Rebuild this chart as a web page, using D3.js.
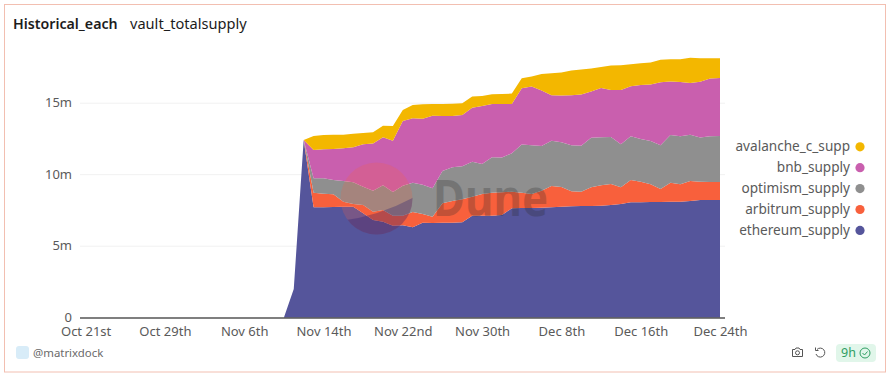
<!DOCTYPE html>
<html>
<head>
    <meta charset="utf-8">
    <script src="https://d3js.org/d3.v7.min.js"></script>
    <style>
        html, body { margin: 0; padding: 0; background: #fff; overflow: hidden; }
        text { font-family: "Noto Sans", sans-serif; }
    </style>
</head>
<body>
    <div id="chart"></div>
    <script>
        // daily values in millions, Oct 21st to Dec 24th
        const startDay = "2023-10-21";
        const ethereum = [0,0,0,0,0,0,0,0,0,0,0,0,0,0,0,0,0,0,0,0,0,2.0,12.43,
            7.72,7.72,7.74,7.76,7.76,7.30,6.83,6.71,6.43,6.46,6.32,6.64,6.62,6.64,6.64,6.67,7.13,7.13,7.13,7.18,7.65,
            7.67,7.67,7.69,7.72,7.76,7.79,7.81,7.81,7.83,7.88,7.95,8.07,8.07,8.09,8.09,8.11,8.11,8.16,8.23,8.23,8.23];
        const arbitrum = [0,0,0,0,0,0,0,0,0,0,0,0,0,0,0,0,0,0,0,0,0,0,0,
            1.02,0.95,0.89,0.35,0.19,0.58,0.58,0.82,0.70,0.67,1.07,0.61,0.44,1.36,1.52,1.61,1.33,1.52,1.61,1.59,1.16,
            1.07,0.98,1.19,1.49,1.38,1.05,1.00,1.31,1.43,1.47,1.17,1.56,1.44,1.24,0.91,1.33,1.22,1.40,1.28,1.26,1.26];
        const optimism = [0,0,0,0,0,0,0,0,0,0,0,0,0,0,0,0,0,0,0,0,0,0,0,
            1.01,1.08,1.00,1.45,1.52,1.28,1.47,1.73,1.66,2.10,2.05,2.05,1.99,2.26,2.36,2.31,2.45,2.10,2.48,2.43,2.69,
            3.38,3.41,3.13,3.17,3.13,3.22,3.22,3.47,3.36,3.29,3.01,3.06,2.99,3.03,3.06,3.34,3.36,3.24,3.10,3.20,3.22];
        const bnb = [0,0,0,0,0,0,0,0,0,0,0,0,0,0,0,0,0,0,0,0,0,0,0,
            1.98,2.03,2.17,2.29,2.45,2.97,3.31,3.36,3.59,4.52,4.50,4.62,5.08,3.85,3.59,3.59,3.78,4.06,3.73,3.74,3.45,
            3.92,4.10,3.87,3.17,3.26,3.50,3.57,3.22,3.45,3.29,3.80,3.50,3.78,3.94,4.41,3.73,3.80,3.62,3.89,4.03,4.06];
        const avalanche = [0,0,0,0,0,0,0,0,0,0,0,0,0,0,0,0,0,0,0,0,0,0,0,
            0.98,1.00,1.00,0.95,0.95,0.79,0.77,0.81,1.03,0.77,0.93,1.01,0.82,0.84,0.86,0.82,0.77,0.70,0.68,0.70,0.72,
            0.70,0.70,1.17,1.54,1.61,1.72,1.75,1.61,1.47,1.70,1.73,1.54,1.52,1.54,1.56,1.57,1.59,1.75,1.64,1.43,1.38];

        const seriesNames = ["ethereum_supply", "arbitrum_supply", "optimism_supply", "bnb_supply", "avalanche_c_supp"];
        const seriesColors = ["#55559b", "#f8603c", "#8f8f8f", "#c95fae", "#f3b700"];
        const yTicks = [0, 5, 10, 15];
        const yTickLabels = ["0", "5m", "10m", "15m"];
        const xTicks = ["2023-10-21", "2023-10-29", "2023-11-06", "2023-11-14", "2023-11-22", "2023-11-30", "2023-12-08", "2023-12-16", "2023-12-24"];
        const xTickLabels = ["Oct 21st", "Oct 29th", "Nov 6th", "Nov 14th", "Nov 22nd", "Nov 30th", "Dec 8th", "Dec 16th", "Dec 24th"];

        const parseDay = d3.utcParse("%Y-%m-%d");
        const textColor = "#5a5a5a";

        const svg = d3.select("#chart")
            .append("svg")
            .attr("width", 890)
            .attr("height", 376)
            .style("display", "block");

        // card frame
        svg.append("rect")
            .attr("x", 4.5).attr("y", 4.5)
            .attr("width", 881).attr("height", 367.5)
            .attr("fill", "#fff")
            .attr("stroke", "#f2bfb1");

        svg.append("text").attr("x", 13).attr("y", 29)
            .attr("font-size", 14.2).attr("font-weight", 600).attr("fill", "#1c1c1c")
            .text("Historical_each");
        svg.append("text").attr("x", 130).attr("y", 29)
            .attr("font-size", 14.6).attr("fill", "#1c1c1c")
            .text("vault_totalsupply");

        // scales
        const x = d3.scaleUtc()
            .domain([parseDay(xTicks[0]), parseDay(xTicks[xTicks.length - 1])])
            .range([85.6, 720]);
        const y = d3.scaleLinear()
            .domain([0, 15])
            .range([317.7, 103.2]);

        // grid
        svg.append("g")
            .selectAll("line")
            .data(yTicks.slice(1))
            .join("line")
            .attr("x1", 80).attr("x2", 725)
            .attr("y1", d => y(d)).attr("y2", d => y(d))
            .attr("stroke", "#f1f1f1");

        // stacked areas
        const rows = ethereum.map((v, i) => ({
            day: d3.utcDay.offset(parseDay(startDay), i),
            ethereum_supply: v,
            arbitrum_supply: arbitrum[i],
            optimism_supply: optimism[i],
            bnb_supply: bnb[i],
            avalanche_c_supp: avalanche[i]
        }));
        const stacked = d3.stack().keys(seriesNames)(rows);
        const area = d3.area()
            .x(d => x(d.data.day))
            .y0(d => y(d[0]))
            .y1(d => y(d[1]));

        svg.append("g")
            .selectAll("path")
            .data(stacked)
            .join("path")
            .attr("fill", (d, i) => seriesColors[i])
            .attr("d", area);

        // watermark
        const mark = svg.append("g").attr("pointer-events", "none");
        const logoClip = svg.append("clipPath").attr("id", "logo-clip");
        logoClip.append("circle").attr("cx", 376.5).attr("cy", 198.5).attr("r", 36);
        mark.append("circle").attr("cx", 376.5).attr("cy", 198.5).attr("r", 36)
            .attr("fill", "#f4603e").attr("opacity", 0.22);
        mark.append("path")
            .attr("clip-path", "url(#logo-clip)")
            .attr("d", "M340,221 Q380,216 416,196 L416,240 L340,240 Z")
            .attr("fill", "#1e1870").attr("opacity", 0.3);
        mark.append("text")
            .attr("x", 433).attr("y", 216)
            .attr("font-size", 50).attr("font-weight", 700)
            .attr("textLength", 115).attr("lengthAdjust", "spacingAndGlyphs")
            .attr("fill", "#2a2a2a").attr("opacity", 0.26)
            .text("Dune");

        // axes
        const xAxis = svg.append("g")
            .attr("transform", "translate(0,318)")
            .call(d3.axisBottom(x)
                .tickValues(xTicks.map(parseDay))
                .tickFormat((d, i) => xTickLabels[i])
                .tickSize(0)
                .tickPadding(9));
        xAxis.select(".domain").remove();
        xAxis.selectAll("text").attr("font-size", 13).attr("fill", textColor)
            .style("font-family", "\"Noto Sans\", sans-serif");

        const yAxis = svg.append("g")
            .attr("transform", "translate(72,-0.5)")
            .call(d3.axisLeft(y)
                .tickValues(yTicks)
                .tickFormat((d, i) => yTickLabels[i])
                .tickSize(0)
                .tickPadding(0));
        yAxis.select(".domain").remove();
        yAxis.selectAll("text").attr("font-size", 13).attr("fill", textColor)
            .style("font-family", "\"Noto Sans\", sans-serif");

        // baseline
        svg.append("line")
            .attr("x1", 80).attr("x2", 725)
            .attr("y1", 318).attr("y2", 318)
            .attr("stroke", "#555").attr("stroke-width", 1.4);

        // legend, top entry first
        const legend = svg.append("g")
            .selectAll("g")
            .data(seriesNames.slice().reverse())
            .join("g")
            .attr("transform", (d, i) => "translate(0," + (146.8 + i * 20.9) + ")");
        legend.append("text")
            .attr("x", 850).attr("y", 4.5)
            .attr("text-anchor", "end")
            .attr("font-size", 13.6).attr("fill", textColor)
            .text(d => d);
        legend.append("circle")
            .attr("cx", 860).attr("cy", 0).attr("r", 4.6)
            .attr("fill", d => seriesColors[seriesNames.indexOf(d)]);

        // footer
        svg.append("rect")
            .attr("x", 16).attr("y", 346).attr("width", 13).attr("height", 13).attr("rx", 3)
            .attr("fill", "#d8ecf8");
        svg.append("text").attr("x", 33).attr("y", 357)
            .attr("font-size", 11.4).attr("fill", "#6a6a6a")
            .text("@matrixdock");

        const icons = svg.append("g").attr("fill", "none").attr("stroke", "#555").attr("stroke-width", 1);
        icons.append("path").attr("d", "M792.5,349.5 h2.5 l1,-1.5 h3 l1,1.5 h2.5 v7 h-10 Z");
        icons.append("circle").attr("cx", 797.5).attr("cy", 352.8).attr("r", 2);
        icons.append("path").attr("d", "M817,349.5 A4.5,4.5 0 1 1 816,354");
        icons.append("path").attr("d", "M815.5,347.5 v3 h3");

        svg.append("rect")
            .attr("x", 836).attr("y", 344).attr("width", 40).attr("height", 18).attr("rx", 4)
            .attr("fill", "#e1f6ea");
        svg.append("text").attr("x", 841).attr("y", 357)
            .attr("font-size", 12.5).attr("fill", "#2f9e63")
            .text("9h");
        svg.append("circle").attr("cx", 865).attr("cy", 353).attr("r", 5)
            .attr("fill", "none").attr("stroke", "#2f9e63");
        svg.append("path").attr("d", "M862.5,353 l2,2 l3,-3.5")
            .attr("fill", "none").attr("stroke", "#2f9e63");
    </script>
</body>
</html>
